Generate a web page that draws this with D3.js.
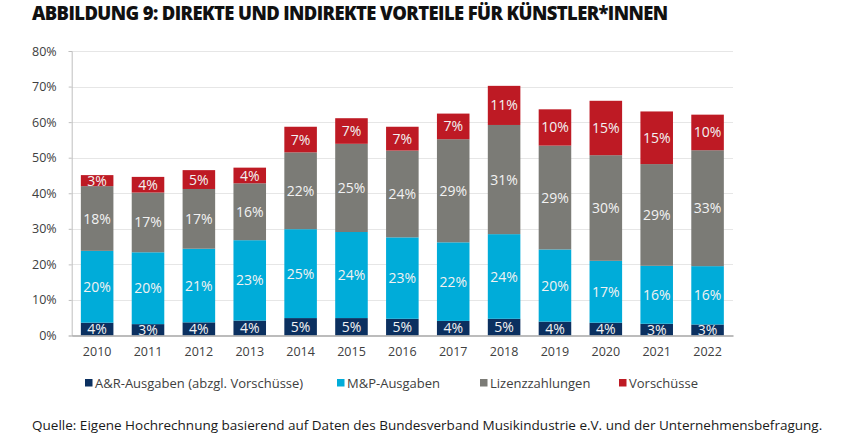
<!DOCTYPE html>
<html><head><meta charset="utf-8">
<script src="https://cdn.jsdelivr.net/npm/d3@7"></script>
<style>
html,body{margin:0;padding:0;background:#fff;}
svg{display:block;}
text{font-family:"Open Sans","Noto Sans",sans-serif;}
</style></head>
<body>
<svg id="chart" width="850" height="443"></svg>
<script>
const titleText = "ABBILDUNG 9: DIREKTE UND INDIREKTE VORTEILE FÜR KÜNSTLER*INNEN";
const sourceText = "Quelle: Eigene Hochrechnung basierend auf Daten des Bundesverband Musikindustrie e.V. und der Unternehmensbefragung.";
const years = ["2010","2011","2012","2013","2014","2015","2016","2017","2018","2019","2020","2021","2022"];
const seriesNames = ["A&R-Ausgaben (abzgl. Vorschüsse)","M&P-Ausgaben","Lizenzzahlungen","Vorschüsse"];
const arValues      = [3.6, 3.2, 3.7, 4.2, 4.9, 4.9, 4.7, 4.1, 4.7, 3.9, 3.6, 3.3, 3.1];
const mpValues      = [20.2, 20.2, 20.7, 22.6, 25.0, 24.2, 22.9, 22.1, 23.8, 20.3, 17.4, 16.3, 16.4];
const lizenzValues  = [18.2, 16.8, 16.8, 16.0, 21.6, 24.8, 24.4, 29.0, 30.7, 29.2, 29.7, 28.6, 32.6];
const vorschValues  = [3.1, 4.4, 5.3, 4.4, 7.2, 7.2, 6.7, 7.2, 11.0, 10.2, 15.3, 14.8, 10.0];
const yTicks = [0,10,20,30,40,50,60,70,80];
const colors = ["#0b3060","#00acd9","#7b7b76","#be1a24"];

const svg = d3.select("#chart");
const pLeft = 71.7, pRight = 733, pTop = 51, pBottom = 335.5;

const x = d3.scaleBand().domain(years).range([pLeft, pRight]).paddingInner(0.36).paddingOuter(0.18);
const y = d3.scaleLinear().domain([0, 80]).range([pBottom, pTop]);

// gridlines
svg.append("g").selectAll("line").data(yTicks.filter(t => t > 0)).join("line")
  .attr("x1", pLeft).attr("x2", pRight)
  .attr("y1", d => Math.round(y(d)) + 0.5).attr("y2", d => Math.round(y(d)) + 0.5)
  .attr("stroke", "#e6e6e6").attr("stroke-width", 1);

// y axis
const yAxis = d3.axisLeft(y).tickValues(yTicks).tickFormat(d => d + "%").tickSize(3).tickPadding(12);
const yg = svg.append("g").attr("transform", `translate(${pLeft},0)`).call(yAxis);
yg.select(".domain").attr("stroke", "#bfbfbf");
yg.selectAll(".tick line").attr("stroke", "#bfbfbf");
yg.selectAll(".tick text").attr("fill", "#404040").style("font-size", "12.5px").style("font-family", "'Open Sans'");

// stack data
const rows = years.map((yr, i) => ({year: yr, s0: arValues[i], s1: mpValues[i], s2: lizenzValues[i], s3: vorschValues[i]}));
const stack = d3.stack().keys(["s0","s1","s2","s3"])(rows);

svg.append("clipPath").attr("id", "plotclip").append("rect")
  .attr("x", pLeft).attr("y", 0).attr("width", pRight - pLeft).attr("height", pBottom);

const layers = svg.append("g").selectAll("g").data(stack).join("g")
  .attr("fill", (d, i) => colors[i]);
layers.selectAll("rect").data(d => d).join("rect")
  .attr("x", d => x(d.data.year))
  .attr("width", x.bandwidth())
  .attr("y", d => y(d[1]))
  .attr("height", d => y(d[0]) - y(d[1]));

// labels
const labG = svg.append("g").attr("clip-path", "url(#plotclip)");
stack.forEach((layer) => {
  labG.selectAll(null).data(layer).join("text")
    .attr("x", d => x(d.data.year) + x.bandwidth() / 2)
    .attr("y", d => (y(d[0]) + y(d[1])) / 2)
    .attr("dy", "0.36em")
    .attr("text-anchor", "middle")
    .attr("fill", "#f2f2f2")
    .style("font-size", "14px")
    .text(d => Math.round(d[1] - d[0]) + "%");
});

// x axis
const xAxis = d3.axisBottom(x).tickSize(0).tickPadding(12);
const xg = svg.append("g").attr("transform", `translate(0,${pBottom})`).call(xAxis);
xg.select(".domain").attr("stroke", "#a6a6a6").attr("stroke-width", 1.5);
xg.selectAll(".tick text").attr("fill", "#404040").style("font-size", "12.5px").style("font-family", "'Open Sans'");

// legend
const legendX = [85, 337, 480, 619];
const lg = svg.append("g");
seriesNames.forEach((name, i) => {
  lg.append("rect").attr("x", legendX[i]).attr("y", 379).attr("width", 7.5).attr("height", 7.5).attr("fill", colors[i]);
  lg.append("text").attr("x", legendX[i] + 10).attr("y", 388).attr("fill", "#404040")
    .style("font-size", "13px").text(name);
});

function fitText(sel, targetWidth) {
  const fs = parseFloat(sel.style("font-size"));
  const w = sel.node().getComputedTextLength();
  sel.style("font-size", (fs * targetWidth / w) + "px");
}

const title = svg.append("text").attr("x", 32).attr("y", 20)
  .attr("fill", "#111").style("font-weight", "800").style("font-size", "16px")
  .style("letter-spacing", "-0.6px")
  .text(titleText);
fitText(title, 630);

const src = svg.append("text").attr("x", 32).attr("y", 430)
  .attr("fill", "#1a1a1a").style("font-size", "13.5px").text(sourceText);
fitText(src, 791);
</script>
</body></html>
